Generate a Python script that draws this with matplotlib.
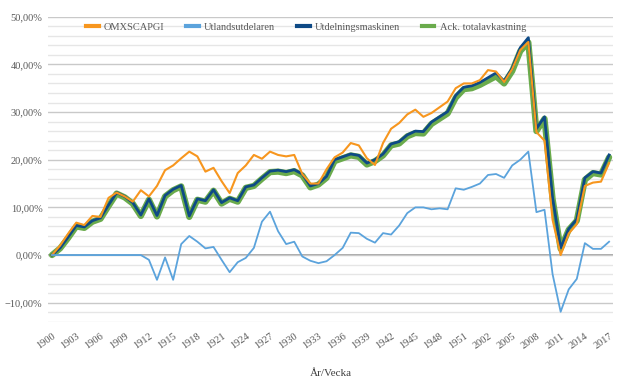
import matplotlib.pyplot as plt
from matplotlib.lines import Line2D
from matplotlib.ticker import MultipleLocator, FuncFormatter

# År/Vecka categories (YYWW)
weeks = ["19%02d" % w for w in range(0, 53)] + ["20%02d" % w for w in range(1, 18)]

omx = [0.0, 2.0, 4.5, 6.8, 6.3, 8.2, 8.0, 12.0, 13.1, 12.3,
       11.2, 13.6, 12.3, 14.5, 17.8, 18.8, 20.3, 21.7, 20.7, 17.5,
       18.3, 15.5, 13.0, 17.2, 18.8, 21.0, 20.2, 21.7, 21.0, 20.7,
       21.0, 17.0, 15.0, 15.0, 18.0, 20.5, 21.5, 23.5, 23.0, 20.3,
       18.9, 23.5, 26.5, 27.7, 29.5, 30.5, 29.0, 29.8, 31.0, 32.2,
       35.0, 36.0, 36.0, 36.7, 38.8, 38.5, 36.3, 39.0, 43.0, 44.7,
       25.8, 24.0, 7.4, 0.0, 4.5, 6.5, 14.5, 15.2, 15.4, 19.3]

utland = [0.0, 0.0, 0.0, 0.0, 0.0, 0.0, 0.0, 0.0, 0.0, 0.0,
          0.0, 0.0, -1.0, -5.2, -0.5, -5.2, 2.3, 4.0, 2.8, 1.4,
          1.7, -1.0, -3.6, -1.5, -0.6, 1.5, 7.0, 9.1, 5.0, 2.3,
          2.8, -0.3, -1.2, -1.7, -1.3, 0.0, 1.5, 4.7, 4.6, 3.4,
          2.6, 4.6, 4.3, 6.2, 8.8, 10.0, 10.0, 9.6, 9.8, 9.6,
          14.0, 13.7, 14.3, 15.0, 16.8, 17.0, 16.2, 18.8, 20.0, 21.7,
          9.0, 9.5, -4.0, -11.9, -7.2, -5.0, 2.5, 1.3, 1.3, 2.8]

utdelning = [0.0, 1.5, 3.8, 6.2, 5.9, 7.2, 7.8, 10.5, 13.1, 12.3,
             11.0, 8.4, 11.8, 8.3, 12.5, 13.8, 14.6, 8.2, 11.8, 11.4,
             13.7, 11.0, 12.0, 11.4, 14.3, 14.7, 16.2, 17.6, 17.8, 17.5,
             17.9, 17.0, 14.5, 15.0, 16.5, 20.0, 20.6, 21.2, 20.9, 19.3,
             20.0, 21.2, 23.3, 23.8, 25.2, 26.0, 25.9, 27.9, 29.0, 30.1,
             33.5, 35.2, 35.5, 36.2, 37.2, 38.2, 36.5, 39.2, 43.5, 45.6,
             26.5, 29.0, 12.0, 1.5, 5.5, 7.5, 16.2, 17.5, 17.2, 21.0]

ack_total = [0.0, 1.4, 3.6, 6.0, 5.7, 7.0, 7.6, 10.3, 12.9, 12.1,
             10.8, 8.2, 11.6, 8.1, 12.3, 13.6, 14.4, 8.0, 11.6, 11.2,
             13.5, 10.8, 11.8, 11.2, 14.1, 14.5, 16.0, 17.4, 17.5, 17.2,
             17.6, 16.7, 14.2, 14.8, 16.2, 19.7, 20.3, 20.9, 20.6, 19.0,
             19.7, 20.9, 23.0, 23.4, 24.9, 25.6, 25.5, 27.5, 28.6, 29.7,
             33.0, 34.8, 35.0, 35.7, 36.6, 37.5, 36.0, 38.6, 42.8, 44.6,
             26.0, 28.6, 11.8, 1.3, 5.3, 7.2, 15.8, 17.2, 16.9, 20.5]

ORANGE = "#F7961E"
LBLUE = "#5BA3DC"
DBLUE = "#0E4A86"
GREEN = "#6AAB4C"
GRAY = "#595959"

plt.rcParams["font.family"] = ["Liberation Serif", "DejaVu Serif"]

fig = plt.figure(figsize=(6.4, 3.84), dpi=100)
ax = fig.add_axes([0.075, 0.162, 0.883, 0.7945])

x = list(range(len(weeks)))
ax.plot(x, ack_total, color=GREEN, lw=4.5, solid_joinstyle="round",
        solid_capstyle="round", zorder=2)
ax.plot(x, utdelning, color=DBLUE, lw=2.0, solid_joinstyle="round", zorder=3)
ax.plot(x, omx, color=ORANGE, lw=1.5, solid_joinstyle="round", zorder=4)
ax.plot(x, utland, color=LBLUE, lw=1.3, solid_joinstyle="round", zorder=5)

ax.set_xlim(-0.5, len(weeks) - 0.5)
ax.set_ylim(-14, 50)

# grid: minor every 2 %, major every 10 %, darker line at 0
ax.yaxis.set_major_locator(MultipleLocator(10))
ax.yaxis.set_minor_locator(MultipleLocator(2))
ax.grid(which="minor", axis="y", color="#e6e6e6", lw=1.0, zorder=0)
ax.grid(which="major", axis="y", color="#c9c9c9", lw=1.0, zorder=0)
ax.axhline(0, color="#a0a0a0", lw=1.3, zorder=1)

ax.yaxis.set_major_formatter(FuncFormatter(
    lambda v, p: ("%.2f%%" % v).replace(".", ",").replace("-", "\u2212")))
ax.set_xticks(x[::3])
ax.set_xticklabels(weeks[::3], rotation=35, ha="right", rotation_mode="anchor")

ax.tick_params(axis="both", which="both", length=0, labelsize=7.5, labelcolor=GRAY)
ax.tick_params(axis="x", pad=7)
ax.tick_params(axis="y", pad=4)
for s in ax.spines.values():
    s.set_visible(False)

ax.set_xlabel("År/Vecka", fontsize=8, color="#404040", labelpad=13)

handles = [Line2D([], [], color=c, lw=3) for c in (ORANGE, LBLUE, DBLUE, GREEN)]
labels = ["OMXSCAPGI", "Utlandsutdelaren", "Utdelningsmaskinen", "Ack. totalavkastning"]
fig.legend(handles, labels, loc="center", bbox_to_anchor=(306 / 640, 1 - 27 / 384),
           ncol=4, frameon=False, fontsize=7.5, labelcolor=GRAY,
           handlelength=1.2, handletextpad=0.5, columnspacing=2.1)

plt.savefig("out.png", dpi=100)
